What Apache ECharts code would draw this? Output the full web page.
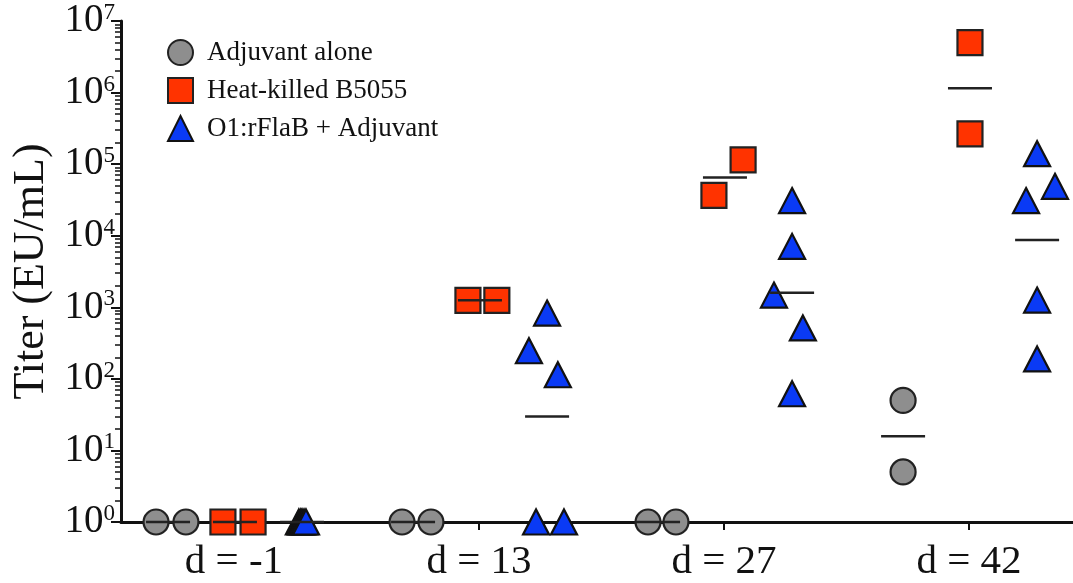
<!DOCTYPE html>
<html>
<head>
<meta charset="utf-8">
<script src="https://cdn.jsdelivr.net/npm/echarts@6/dist/echarts.min.js"></script>
<style>
  html, body { margin: 0; padding: 0; background: #fff; }
  #chart { width: 1073px; height: 583px; }
</style>
</head>
<body>
<div id="chart"></div>
<script>
// Sampling days (x categories)
const categories = ['d = -1', 'd = 13', 'd = 27', 'd = 42'];

// Titers (EU/mL) per animal, one inner list per sampling day
const adjuvantAlone = [
  [1, 1],
  [1, 1],
  [1, 1],
  [50, 5]
];
const heatKilledB5055 = [
  [1, 1],
  [1250, 1250],
  [115000, 36700],
  [5000000, 265000]
];
const rFlaBAdjuvant = [
  [1, 1, 1, 1, 1],
  [830, 247, 114, 1, 1],
  [31000, 7100, 1480, 515, 62],
  [140000, 49000, 31000, 1260, 190]
];

// Y-axis decades
const decadeTicks = [1, 10, 100, 1000, 10000, 100000, 1000000, 10000000];

// ---- layout: horizontal scatter of each animal within its day (fraction of day spacing)
const spreadCircle = [[-0.318, -0.196], [-0.314, -0.196], [-0.310, -0.196], [-0.269, -0.269]];
const spreadSquare = [[-0.045, 0.078], [-0.045, 0.073], [0.078, -0.041], [0.004, 0.004]];
const spreadTriangle = [
  [0.265, 0.273, 0.278, 0.286, 0.294],
  [0.278, 0.204, 0.322, 0.233, 0.347],
  [0.278, 0.278, 0.204, 0.322, 0.278],
  [0.278, 0.351, 0.233, 0.278, 0.278]
];
const meanOffset = { circle: -0.269, square: 0.004, triangle: 0.278 };

function toPoints(values, spread) {
  const out = [];
  values.forEach((row, i) => row.forEach((v, j) => out.push([i + spread[i][j], v])));
  return out;
}
function geoMean(row) {
  const s = row.reduce((a, v) => a + Math.log10(v), 0);
  return Math.pow(10, s / row.length);
}
function meanPoints(values, off) {
  return values.map((row, i) => [i + off, geoMean(row)]);
}

// minor ticks 2..9 x 10^k
const minorTicks = [];
for (let k = 0; k < 7; k++) for (let m = 2; m <= 9; m++) minorTicks.push(m * Math.pow(10, k));

const serif = '"Liberation Serif", "Times New Roman", serif';
const ink = '#111';

const chart = echarts.init(document.getElementById('chart'), null, { renderer: 'canvas' });

const xMin = -0.461, xMax = 3.4245;

chart.setOption({
  animation: false,
  backgroundColor: '#fff',
  grid: { left: 121, right: 0, top: 21, bottom: 59, containLabel: false },
  legend: {
    orient: 'vertical',
    left: 162,
    top: 34,
    itemWidth: 25,
    itemHeight: 25,
    itemGap: 11,
    data: ['Adjuvant alone', 'Heat-killed B5055', 'O1:rFlaB + Adjuvant'],
    textStyle: { fontFamily: serif, fontSize: 27, color: ink, padding: [0, 0, 0, 9] }
  },
  xAxis: {
    type: 'value',
    min: xMin,
    max: xMax,
    splitLine: { show: false },
    axisLine: { onZero: false, lineStyle: { color: ink, width: 3 } },
    axisTick: { show: true, length: 8, lineStyle: { color: ink, width: 2 }, customValues: [0, 1, 2, 3] },
    axisLabel: {
      customValues: [0, 1, 2, 3],
      formatter: v => categories[Math.round(v)],
      fontFamily: serif, fontSize: 41, color: ink, margin: 20
    }
  },
  yAxis: [
    {
      type: 'log',
      logBase: 10,
      min: 1,
      max: 10000000,
      position: 'left',
      name: 'Titer (EU/mL)',
      nameLocation: 'middle',
      nameRotate: 90,
      nameGap: 64,
      nameTextStyle: { fontFamily: serif, fontSize: 44, color: ink },
      splitLine: { show: false },
      axisLine: { show: true, onZero: false, lineStyle: { color: ink, width: 3 } },
      axisTick: { show: true, length: 10, lineStyle: { color: ink, width: 2 }, customValues: decadeTicks },
      axisLabel: {
        customValues: decadeTicks,
        margin: 6,
        formatter: v => '{b|10}{s|' + Math.round(Math.log10(v)) + '}',
        rich: {
          b: { fontFamily: serif, fontSize: 39, color: ink },
          s: { fontFamily: serif, fontSize: 23, color: ink, verticalAlign: 'top', padding: [0, 0, 14, 0] }
        }
      }
    },
    {
      type: 'log',
      logBase: 10,
      min: 1,
      max: 10000000,
      position: 'left',
      offset: 0,
      splitLine: { show: false },
      axisLine: { show: false, onZero: false },
      axisLabel: { show: false },
      axisTick: { show: true, length: 6, lineStyle: { color: ink, width: 1.5 }, customValues: minorTicks }
    }
  ],
  series: [
    {
      name: 'Adjuvant alone',
      type: 'scatter',
      symbol: 'circle',
      symbolSize: 25,
      itemStyle: { color: '#8e8e8e', borderColor: '#222', borderWidth: 2.2, opacity: 1 },
      data: toPoints(adjuvantAlone, spreadCircle),
      z: 3
    },
    {
      name: 'Heat-killed B5055',
      type: 'scatter',
      symbol: 'rect',
      symbolSize: 25,
      itemStyle: { color: '#ff3300', borderColor: '#222', borderWidth: 2.2, opacity: 1 },
      data: toPoints(heatKilledB5055, spreadSquare),
      z: 3
    },
    {
      name: 'O1:rFlaB + Adjuvant',
      type: 'scatter',
      symbol: 'triangle',
      symbolSize: [26, 25],
      itemStyle: { color: '#0a3af5', borderColor: '#111', borderWidth: 2.2, opacity: 1 },
      data: toPoints(rFlaBAdjuvant, spreadTriangle),
      z: 3
    },
    {
      name: 'geometric mean',
      type: 'scatter',
      symbol: 'rect',
      symbolSize: [44, 2.5],
      silent: true,
      itemStyle: { color: '#222', opacity: 1 },
      data: []
        .concat(meanPoints(adjuvantAlone, meanOffset.circle))
        .concat(meanPoints(heatKilledB5055, meanOffset.square))
        .concat(meanPoints(rFlaBAdjuvant, meanOffset.triangle)),
      z: 5
    }
  ]
});
</script>
</body>
</html>
